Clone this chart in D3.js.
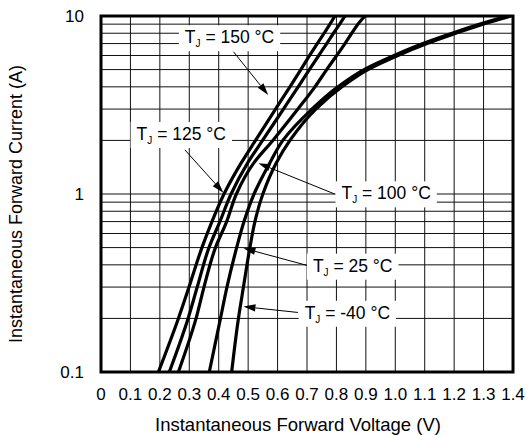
<!DOCTYPE html>
<html>
<head>
<meta charset="utf-8">
<title>Forward Voltage vs Current</title>
<script src="https://d3js.org/d3.v7.min.js"></script>
<style>
  body { margin: 0; background: #fff; }
  text { font-family: "Liberation Sans", Arial, sans-serif; fill: #000; }
</style>
</head>
<body>
<div id="chart"></div>
<script>
//---------------------------- DATA ----------------------------//
// forward current levels (A) and the voltage (V) read for each junction temperature
const currentA = [0.1, 0.2, 0.3, 0.5, 0.7, 1, 1.5, 2, 3, 4, 5, 6, 7, 8, 9, 10];
const vf150 = [0.195, 0.263, 0.299, 0.343, 0.377, 0.418, 0.477, 0.525, 0.593, 0.642, 0.679, 0.709, 0.735, 0.758, 0.778, 0.795];
const vf125 = [0.232, 0.296, 0.327, 0.367, 0.404, 0.442, 0.499, 0.549, 0.620, 0.670, 0.708, 0.740, 0.767, 0.790, 0.811, 0.829];
const vf100 = [0.263, 0.323, 0.350, 0.389, 0.427, 0.460, 0.520, 0.584, 0.669, 0.727, 0.767, 0.801, 0.829, 0.852, 0.873, 0.897];
const vf25  = [0.368, 0.406, 0.428, 0.461, 0.486, 0.520, 0.574, 0.618, 0.717, 0.805, 0.894, 0.996, 1.094, 1.193, 1.288, 1.380];
const vfm40 = [0.444, 0.467, 0.484, 0.506, 0.523, 0.550, 0.596, 0.642, 0.730, 0.819, 0.907, 1.009, 1.108, 1.206, 1.298, 1.393];
const tempLabels = ["150", "125", "100", "25", "-40"];

const xTicks = [0, 0.1, 0.2, 0.3, 0.4, 0.5, 0.6, 0.7, 0.8, 0.9, 1.0, 1.1, 1.2, 1.3, 1.4];
const xTickLabels = ["0", "0.1", "0.2", "0.3", "0.4", "0.5", "0.6", "0.7", "0.8", "0.9", "1.0", "1.1", "1.2", "1.3", "1.4"];
const yTicks = [0.1, 1, 10];
const yTickLabels = ["0.1", "1", "10"];
const yGrid = [0.2, 0.3, 0.4, 0.5, 0.6, 0.7, 0.8, 0.9, 1, 2, 3, 4, 5, 6, 7, 8, 9];

//--------------------------- LAYOUT ---------------------------//
const width = 526, height = 435;
const plotL = 101, plotR = 513, plotT = 16, plotB = 372;

// label anchor / leader start / arrow tip, in data units (V, A)
const notes = [
  { at: [0.285, 7.03], from: [0.450, 6.30], to: [0.568, 3.60] },
  { at: [0.121, 2.01], from: [0.285, 1.77], to: [0.416, 1.017] },
  { at: [0.817, 0.933], from: [0.794, 1.0], to: [0.535, 1.49] },
  { at: [0.720, 0.366], from: [0.715, 0.391], to: [0.484, 0.496] },
  { at: [0.692, 0.199], from: [0.669, 0.216], to: [0.484, 0.233] }
];

const svg = d3.select("#chart").append("svg")
  .attr("width", width)
  .attr("height", height);

const x = d3.scaleLinear().domain([0, 1.4]).range([plotL, plotR]);
const y = d3.scaleLog().domain([0.1, 10]).range([plotB, plotT]);

//--------------------------- GRID -----------------------------//
svg.append("g").selectAll("line").data(xTicks).join("line")
  .attr("x1", d => x(d)).attr("x2", d => x(d))
  .attr("y1", plotT).attr("y2", plotB)
  .attr("stroke", "#111").attr("stroke-width", 1);

svg.append("g").selectAll("line").data(yGrid).join("line")
  .attr("x1", plotL).attr("x2", plotR)
  .attr("y1", d => y(d)).attr("y2", d => y(d))
  .attr("stroke", "#111").attr("stroke-width", 1);

//-------------------------- CURVES ----------------------------//
const seriesList = [vf150, vf125, vf100, vf25, vfm40].map((vals, i) => ({
  id: tempLabels[i],
  pts: currentA.map((c, j) => ({ i: c, v: vals[j] })).reverse()
}));

const line = d3.line()
  .x(d => x(d.v))
  .y(d => y(d.i))
  .curve(d3.curveMonotoneY);

svg.append("defs").append("clipPath").attr("id", "plot")
  .append("rect").attr("x", plotL).attr("y", plotT)
  .attr("width", plotR - plotL).attr("height", plotB - plotT);

//------------------------ ANNOTATIONS -------------------------//
const labelG = svg.append("g");
notes.forEach((n, i) => {
  const t = labelG.append("text")
    .attr("x", x(n.at[0])).attr("y", y(n.at[1]))
    .attr("font-size", 17.5);
  t.append("tspan").text("T");
  t.append("tspan").attr("font-size", 10).attr("dy", 4).text("J");
  t.append("tspan").attr("dy", -4).text(" = " + tempLabels[i] + " \u00B0C");
  const b = t.node().getBBox();
  labelG.insert("rect", "text")
    .attr("x", b.x - 6).attr("y", b.y - 2)
    .attr("width", b.width + 12).attr("height", b.height + 4)
    .attr("fill", "#fff");
});

svg.append("g").attr("clip-path", "url(#plot)")
  .selectAll("path").data(seriesList).join("path")
  .attr("d", d => line(d.pts))
  .attr("fill", "none")
  .attr("stroke", "#000")
  .attr("stroke-width", 3.2);

const arrows = svg.append("g");
notes.forEach(n => {
  const x0 = x(n.from[0]), y0 = y(n.from[1]);
  const x1 = x(n.to[0]), y1 = y(n.to[1]);
  const a = Math.atan2(y1 - y0, x1 - x0);
  const len = 12, hw = 3.6;
  const bx = x1 - len * Math.cos(a), by = y1 - len * Math.sin(a);
  arrows.append("line")
    .attr("x1", x0).attr("y1", y0).attr("x2", bx).attr("y2", by)
    .attr("stroke", "#000").attr("stroke-width", 1);
  arrows.append("path")
    .attr("d", "M" + x1 + "," + y1 +
      "L" + (bx + hw * Math.sin(a)) + "," + (by - hw * Math.cos(a)) +
      "L" + (bx - hw * Math.sin(a)) + "," + (by + hw * Math.cos(a)) + "Z")
    .attr("fill", "#000");
});

// bring label text above everything
labelG.raise();

//--------------------------- FRAME ----------------------------//
svg.append("rect")
  .attr("x", plotL).attr("y", plotT)
  .attr("width", plotR - plotL).attr("height", plotB - plotT)
  .attr("fill", "none").attr("stroke", "#000").attr("stroke-width", 3);

//--------------------------- AXES -----------------------------//
svg.append("g").selectAll("text").data(xTicks).join("text")
  .attr("x", d => x(d)).attr("y", 400)
  .attr("text-anchor", "middle")
  .attr("font-size", 17)
  .text((d, i) => xTickLabels[i]);

svg.append("g").selectAll("text").data(yTicks).join("text")
  .attr("x", 84).attr("y", d => y(d) + 6)
  .attr("text-anchor", "end")
  .attr("font-size", 17)
  .text((d, i) => yTickLabels[i]);

svg.append("text")
  .attr("x", 298).attr("y", 431)
  .attr("text-anchor", "middle")
  .attr("font-size", 18.5)
  .text("Instantaneous Forward Voltage (V)");

svg.append("text")
  .attr("transform", "translate(22,204) rotate(-90)")
  .attr("text-anchor", "middle")
  .attr("font-size", 18)
  .text("Instantaneous Forward Current (A)");
</script>
</body>
</html>
